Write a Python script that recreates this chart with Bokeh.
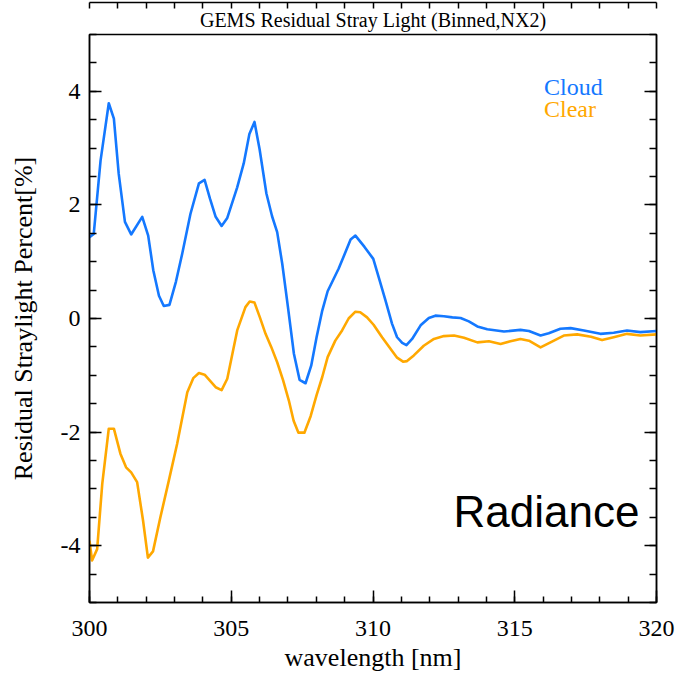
from bokeh.plotting import figure
from bokeh.models import LinearAxis, FixedTicker, Label, ColumnDataSource, Title
from bokeh.embed import file_html
from bokeh.resources import INLINE

# ---- data ----
cloud_wl = [300.0, 300.15, 300.39, 300.68, 300.86, 301.03, 301.25, 301.47, 301.86, 302.07,
            302.25, 302.45, 302.62, 302.82, 303.05, 303.27, 303.56, 303.86, 304.06, 304.25,
            304.45, 304.66, 304.86, 305.21, 305.44, 305.64, 305.82, 306.0, 306.24, 306.44,
            306.62, 306.80, 307.0, 307.21, 307.41, 307.62, 307.82, 308.01, 308.21, 308.40,
            308.79, 309.03, 309.21, 309.38, 309.70, 310.01, 310.20, 310.44, 310.67, 310.85,
            311.03, 311.18, 311.38, 311.68, 311.97, 312.2, 312.5, 312.8, 313.09, 313.38,
            313.68, 314.03, 314.62, 315.20, 315.50, 315.91, 316.20, 316.61, 316.97, 317.44,
            318.02, 318.49, 318.96, 319.43, 320.0]
cloud_pct = [1.43, 1.49, 2.78, 3.79, 3.52, 2.55, 1.70, 1.48, 1.79, 1.46,
             0.85, 0.40, 0.22, 0.24, 0.65, 1.14, 1.84, 2.38, 2.44, 2.11,
             1.79, 1.63, 1.77, 2.31, 2.73, 3.25, 3.46, 2.98, 2.20, 1.80,
             1.52, 0.96, 0.20, -0.62, -1.08, -1.14, -0.83, -0.33, 0.14, 0.48,
             0.88, 1.17, 1.39, 1.46, 1.26, 1.05, 0.73, 0.32, -0.09, -0.33,
             -0.43, -0.47, -0.36, -0.12, 0.01, 0.05, 0.04, 0.02, 0.01, -0.05,
             -0.14, -0.19, -0.23, -0.20, -0.22, -0.30, -0.26, -0.18, -0.17, -0.21,
             -0.27, -0.25, -0.21, -0.24, -0.22]

clear_wl = [300.0, 300.09, 300.27, 300.45, 300.68, 300.86, 301.09, 301.29, 301.47, 301.68,
            301.89, 302.06, 302.24, 302.50, 302.80, 303.09, 303.45, 303.66, 303.86, 304.06,
            304.45, 304.66, 304.86, 305.05, 305.21, 305.5, 305.65, 305.82, 306.01, 306.21,
            306.41, 306.62, 306.83, 307.03, 307.2, 307.37, 307.58, 307.8, 308.01, 308.21,
            308.40, 308.67, 308.91, 309.14, 309.38, 309.55, 309.79, 310.02, 310.32, 310.61,
            310.85, 311.06, 311.2, 311.44, 311.79, 312.15, 312.50, 312.86, 313.21, 313.68,
            314.09, 314.50, 314.85, 315.20, 315.50, 315.91, 316.26, 316.73, 317.20, 317.69,
            318.08, 318.49, 318.96, 319.43, 320.0]
clear_pct = [-3.91, -4.26, -4.06, -2.91, -1.94, -1.94, -2.38, -2.62, -2.71, -2.88,
             -3.56, -4.21, -4.10, -3.50, -2.85, -2.21, -1.30, -1.05, -0.96, -0.99,
             -1.21, -1.26, -1.06, -0.60, -0.21, 0.20, 0.30, 0.28, 0.02, -0.27,
             -0.50, -0.77, -1.09, -1.44, -1.80, -2.01, -2.01, -1.72, -1.35, -1.03,
             -0.68, -0.39, -0.21, 0.0, 0.12, 0.11, 0.02, -0.11, -0.33, -0.53,
             -0.69, -0.76, -0.75, -0.65, -0.48, -0.36, -0.31, -0.30, -0.34, -0.42,
             -0.40, -0.45, -0.40, -0.36, -0.39, -0.51, -0.42, -0.30, -0.28, -0.32,
             -0.38, -0.33, -0.27, -0.30, -0.28]

x_ticks = [300, 305, 310, 315, 320]
x_tick_labels = ["300", "305", "310", "315", "320"]
y_ticks = [-4, -2, 0, 2, 4]
y_tick_labels = ["-4", "-2", "0", "2", "4"]

title_text = "GEMS Residual Stray Light (Binned,NX2)"
x_title = "wavelength [nm]"
y_title = "Residual Straylight Percent[%]"
series_names = ["Cloud", "Clear"]
colors = ["#1478ff", "#ffa800"]

SERIF = "Liberation Serif"

p = figure(width=681, height=682, output_backend="svg", toolbar_location=None,
           x_range=(300, 320), y_range=(-5, 5),
           x_axis_location=None, y_axis_location=None,
           min_border_left=89, min_border_right=25, min_border_top=34, min_border_bottom=80)
p.background_fill_color = "white"
p.border_fill_color = "white"
p.outline_line_color = "black"
p.outline_line_width = 1.5
p.xgrid.visible = False
p.ygrid.visible = False

t = Title(text=title_text, align="center", text_font=SERIF, text_font_size="20px",
          text_font_style="normal", text_color="black", standoff=8)
p.add_layout(t, "above")

def style(ax, major_in, minor_in):
    ax.axis_line_color = "black"
    ax.axis_line_width = 1.5
    ax.major_tick_in = major_in
    ax.major_tick_out = 0
    ax.minor_tick_in = minor_in
    ax.minor_tick_out = 0
    ax.major_tick_line_color = "black"
    ax.minor_tick_line_color = "black"
    ax.major_tick_line_width = 1.5
    ax.minor_tick_line_width = 1.5
    ax.major_label_text_color = "black"
    ax.axis_label_text_color = "black"

bottom = LinearAxis(ticker=FixedTicker(ticks=x_ticks,
                                       minor_ticks=[300 + i for i in range(21)]),
                    major_label_overrides=dict(zip(x_ticks, x_tick_labels)),
                    axis_label=x_title)
style(bottom, 12, 6)
bottom.major_label_text_font = SERIF
bottom.major_label_text_font_size = "24px"
bottom.major_label_standoff = 18
bottom.axis_label_text_font = SERIF
bottom.axis_label_text_font_size = "26px"
bottom.axis_label_text_font_style = "normal"
bottom.axis_label_standoff = 4
p.add_layout(bottom, "below")

left = LinearAxis(ticker=FixedTicker(ticks=y_ticks,
                                     minor_ticks=[-5 + 0.5 * i for i in range(21)]),
                  major_label_overrides=dict(zip(y_ticks, y_tick_labels)),
                  axis_label=y_title)
style(left, 12, 7)
left.major_label_text_font = SERIF
left.major_label_text_font_size = "24px"
left.major_label_standoff = 9
left.axis_label_text_font = SERIF
left.axis_label_text_font_size = "26px"
left.axis_label_text_font_style = "normal"
left.axis_label_standoff = 20
p.add_layout(left, "left")

right = LinearAxis(ticker=FixedTicker(ticks=y_ticks,
                                      minor_ticks=[-5 + 0.5 * i for i in range(21)]),
                   major_label_overrides={v: "" for v in y_ticks},
                   major_label_standoff=0)
style(right, 12, 7)
p.add_layout(right, "right")

top_ticks = [300 + i for i in range(21)]
top = LinearAxis(ticker=FixedTicker(ticks=top_ticks, minor_ticks=[]),
                 major_label_overrides={v: "" for v in top_ticks},
                 major_label_standoff=0)
style(top, 6, 0)
p.add_layout(top, "above")

for wl, pct, c in [(cloud_wl, cloud_pct, colors[0]), (clear_wl, clear_pct, colors[1])]:
    src = ColumnDataSource(dict(x=wl, y=pct))
    p.line("x", "y", source=src, line_color=c, line_width=2.6, line_join="round")

p.add_layout(Label(x=316.03, y=4.07, text=series_names[0], text_color=colors[0],
                   text_font=SERIF, text_font_size="24px", text_baseline="alphabetic"))
p.add_layout(Label(x=316.03, y=3.68, text=series_names[1], text_color=colors[1],
                   text_font=SERIF, text_font_size="24px", text_baseline="alphabetic"))
p.add_layout(Label(x=316.12, y=-3.40, text="Radiance", text_color="black",
                   text_font="Liberation Sans", text_font_size="44px",
                   text_align="center", text_baseline="alphabetic"))

open("out.html", "w").write(file_html(p, INLINE))
